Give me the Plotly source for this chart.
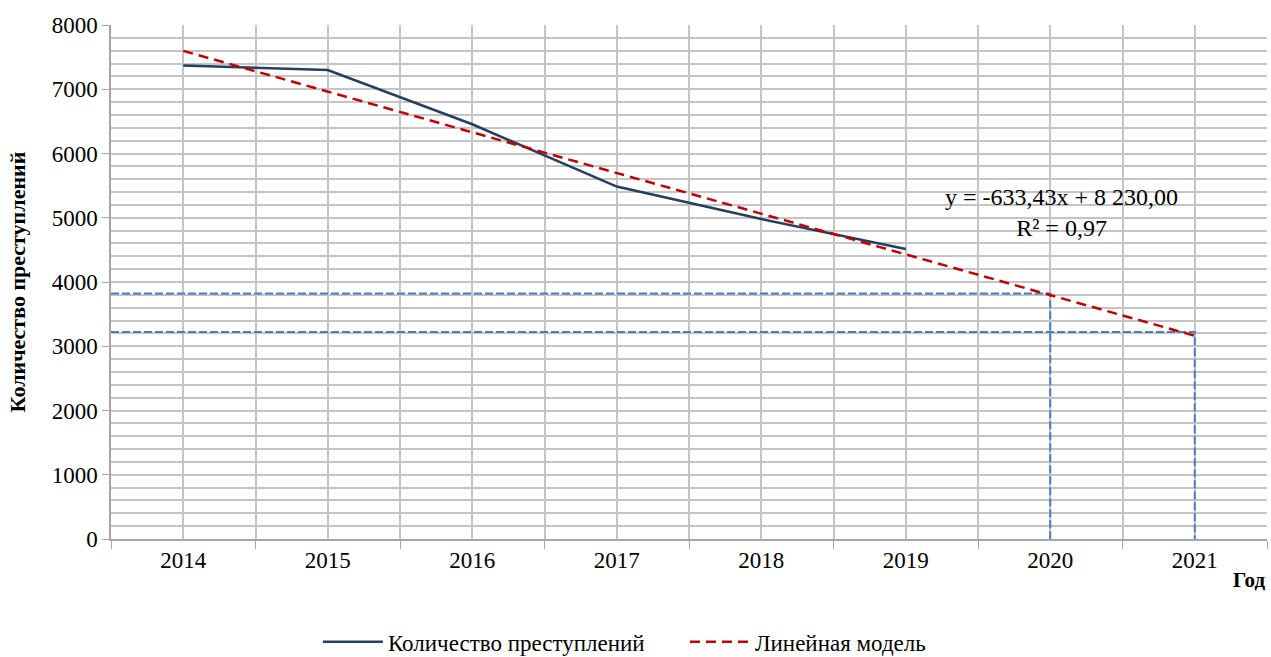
import plotly.graph_objects as go

years = [2014, 2015, 2016, 2017, 2018, 2019, 2020, 2021]
crimes_years = [2014, 2015, 2016, 2017, 2018, 2019]
crimes = [7370, 7300, 6455, 5485, 4980, 4515]
# linear model values (y = -633,43x + 8 230,00)
trend = [7597, 6963, 6330, 5696, 5063, 4429, 3796, 3163]
# forecast guide lines
proj_years = [2020, 2021]
proj_values = [3820, 3220]

FONT = "Liberation Serif"
GRID = "#c4c4c4"

fig = go.Figure()

# dashed forecast guides
for yr, val in zip(proj_years, proj_values):
    fig.add_trace(go.Scatter(
        x=[2013.5, yr, yr], y=[val, val, 0], mode="lines",
        line=dict(color="#4a7ebb", width=2, dash="8px,3px"),
        showlegend=False, hoverinfo="skip"))

fig.add_trace(go.Scatter(
    x=crimes_years, y=crimes, mode="lines", name="Количество преступлений",
    line=dict(color="#243f60", width=2.5)))
fig.add_trace(go.Scatter(
    x=years, y=trend, mode="lines", name="Линейная модель",
    line=dict(color="#c00000", width=2.5, dash="10px,6px")))

fig.add_annotation(
    x=2020.08, y=5080, xref="x", yref="y", showarrow=False,
    text="y = -633,43x + 8 230,00<br>R² = 0,97",
    font=dict(family=FONT, size=24, color="black"), align="center")
fig.add_annotation(
    x=1.0, y=-0.08, xref="paper", yref="paper", showarrow=False,
    text="<b>Год</b>", xanchor="right", yanchor="middle",
    font=dict(family=FONT, size=21, color="black"))

fig.update_xaxes(
    range=[2013.5, 2021.5], tickvals=years, ticktext=[str(y) for y in years],
    ticks="", showgrid=True, gridcolor=GRID, gridwidth=1.5, automargin=False,
    showline=True, linecolor="#a6a6a6", linewidth=1.5, zeroline=False,
    minor=dict(tick0=2013.5, dtick=1, ticks="outside", ticklen=8,
               tickcolor="#a6a6a6", showgrid=True, gridcolor=GRID, gridwidth=1.5),
    tickfont=dict(family=FONT, size=23, color="black"))
fig.update_yaxes(
    range=[0, 8000], dtick=1000, ticks="outside", ticklen=7, tickcolor="#a6a6a6",
    showgrid=True, gridcolor=GRID, gridwidth=1.5, automargin=False,
    showline=True, linecolor="#a6a6a6", linewidth=1.5, zeroline=False,
    minor=dict(dtick=200, showgrid=True, gridcolor=GRID, gridwidth=1.5),
    tickfont=dict(family=FONT, size=23, color="black"),
    title=dict(text="<b>Количество преступлений</b>", standoff=20,
               font=dict(family=FONT, size=22, color="black")))

fig.update_layout(
    width=1271, height=657, plot_bgcolor="white", paper_bgcolor="white",
    margin=dict(l=111, r=4, t=25, b=118, autoexpand=False),
    legend=dict(orientation="h", x=0.179, xanchor="left", y=-0.2, yanchor="middle",
                font=dict(family=FONT, size=23, color="black"),
                itemwidth=60, entrywidth=292, tracegroupgap=0),
    font=dict(family=FONT))

# drop the default page margin so the figure fills the window exactly
fig.write_html("out.html", config={"displayModeBar": False},
               post_script="document.body.style.margin='0';"
                           "document.body.style.overflow='hidden';")
